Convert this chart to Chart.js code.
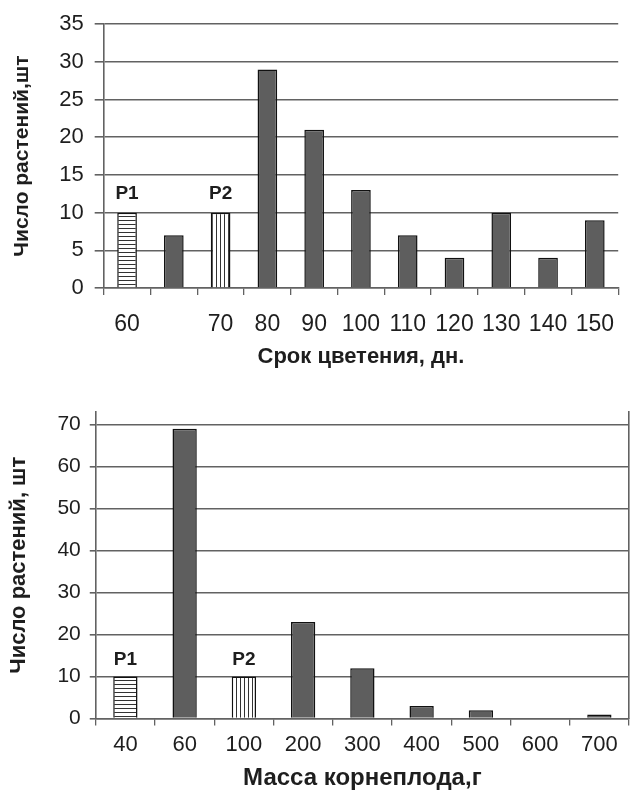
<!DOCTYPE html>
<html>
<head>
<meta charset="utf-8">
<script src="https://cdn.jsdelivr.net/npm/chart.js@4.4.1/dist/chart.umd.min.js"></script>
<style>
  html, body { margin: 0; padding: 0; background: #fff; }
  #wrap { position: relative; width: 630px; height: 790px; }
  .box { position: absolute; left: 0; width: 630px; }
  #top { top: 0; height: 370px; }
  #bottom { top: 380px; height: 410px; }
</style>
</head>
<body>
<div id="wrap">
  <div class="box" id="top"><canvas id="chartTop"></canvas></div>
  <div class="box" id="bottom"><canvas id="chartBottom"></canvas></div>
</div>
<script>
// верхний график: срок цветения
const bloomDays = ['60', '', '70', '80', '90', '100', '110', '120', '130', '140', '150'];
const bloomCounts = [10, 7, 10, 29, 21, 13, 7, 4, 10, 4, 9];
const bloomParents = ['P1', '', 'P2', '', '', '', '', '', '', '', ''];
const bloomTicks = [0, 5, 10, 15, 20, 25, 30, 35];

// нижний график: масса корнеплода
const rootMass = ['40', '60', '100', '200', '300', '400', '500', '600', '700'];
const rootCounts = [10, 69, 10, 23, 12, 3, 2, 0, 1];
const rootParents = ['P1', '', 'P2', '', '', '', '', '', ''];
const rootTicks = [0, 10, 20, 30, 40, 50, 60, 70];

const FONT = "'Liberation Sans', Arial, sans-serif";
const INK = '#1e1e1e';
const GRID = '#626262';

// штриховка для родительских форм
function stripes(horizontal) {
  const c = document.createElement('canvas');
  c.width = 4; c.height = 4;
  const g = c.getContext('2d');
  g.fillStyle = '#fff';
  g.fillRect(0, 0, 4, 4);
  g.fillStyle = '#333';
  if (horizontal) g.fillRect(0, 0, 4, 1);
  else g.fillRect(0, 0, 1, 4);
  return g.createPattern(c, 'repeat');
}
const hatchH = stripes(true);
const hatchV = stripes(false);

function fills(parents) {
  return parents.map(p => p === 'P1' ? hatchH : (p === 'P2' ? hatchV : '#5e5e5e'));
}

// подписи P1 / P2 над столбцами
const parentLabels = {
  id: 'parentLabels',
  afterDatasetsDraw(chart, args, opts) {
    const ctx = chart.ctx;
    const meta = chart.getDatasetMeta(0);
    ctx.save();
    ctx.font = 'bold ' + opts.size + 'px ' + FONT;
    ctx.fillStyle = INK;
    ctx.textAlign = 'center';
    ctx.textBaseline = 'alphabetic';
    opts.names.forEach((name, i) => {
      if (!name) return;
      const bar = meta.data[i];
      ctx.fillText(name, bar.x, bar.y - opts.gap);
    });
    ctx.restore();
  }
};

function makeChart(el, cfg) {
  return new Chart(document.getElementById(el), {
    type: 'bar',
    data: {
      labels: cfg.labels,
      datasets: [{
        data: cfg.values,
        backgroundColor: fills(cfg.parents),
        borderColor: '#111',
        borderWidth: 1.5,
        categoryPercentage: 1,
        barPercentage: cfg.barPct
      }]
    },
    options: {
      responsive: true,
      maintainAspectRatio: false,
      animation: false,
      events: [],
      layout: { padding: cfg.padding },
      plugins: {
        legend: { display: false },
        tooltip: { enabled: false },
        parentLabels: { names: cfg.parents, size: cfg.pSize, gap: cfg.pGap }
      },
      scales: cfg.scales
    },
    plugins: [parentLabels]
  });
}

// верхний
makeChart('chartTop', {
  labels: bloomDays,
  values: bloomCounts,
  parents: bloomParents,
  barPct: 0.42,
  pSize: 19,
  pGap: 14,
  padding: { top: 21, right: 0, bottom: 0, left: 0 },
  scales: {
    x: {
      grid: { drawOnChartArea: false, drawTicks: true, tickLength: 7, color: GRID, lineWidth: 1.3 },
      border: { display: true, color: GRID, width: 1.6 },
      ticks: { color: INK, padding: 16, font: { family: FONT, size: 23 }, maxRotation: 0, autoSkip: false },
      title: { display: true, text: 'Срок цветения, дн.', color: INK, padding: { top: -11, bottom: 0 },
               font: { family: FONT, size: 22, weight: 'bold' } }
    },
    y: {
      min: 0,
      max: 35,
      afterBuildTicks: s => { s.ticks = bloomTicks.map(v => ({ value: v })); },
      grid: { color: GRID, lineWidth: 1.6, tickLength: 9 },
      border: { display: true, color: GRID, width: 1.6 },
      ticks: { color: INK, padding: 11, font: { family: FONT, size: 22 } },
      title: { display: true, text: 'Число растений,шт', color: INK, padding: { top: 10, bottom: 13 },
               font: { family: FONT, size: 21, weight: 'bold' } }
    }
  }
});

// нижний
makeChart('chartBottom', {
  labels: rootMass,
  values: rootCounts,
  parents: rootParents,
  barPct: 0.41,
  pSize: 19,
  pGap: 12,
  padding: { top: 32, right: 1, bottom: 0, left: 0 },
  scales: {
    x: {
      grid: { drawOnChartArea: false, drawTicks: true, tickLength: 7, color: GRID, lineWidth: 1.3 },
      border: { display: true, color: GRID, width: 1.6 },
      ticks: { color: INK, padding: 6, font: { family: FONT, size: 22 }, maxRotation: 0, autoSkip: false },
      title: { display: true, text: 'Масса корнеплода,г', color: INK, padding: { top: 2, bottom: 0 },
               font: { family: FONT, size: 24, weight: 'bold', lineHeight: 1 } }
    },
    y: {
      min: 0,
      max: 73,
      afterBuildTicks: s => { s.ticks = rootTicks.map(v => ({ value: v })); },
      grid: { color: GRID, lineWidth: 1.6, tickLength: 6 },
      border: { display: true, color: GRID, width: 1.6 },
      ticks: { color: INK, padding: 9, font: { family: FONT, size: 21 } },
      title: { display: true, text: 'Число растений, шт', color: INK, padding: { top: 6, bottom: 16 },
               font: { family: FONT, size: 22, weight: 'bold' } }
    },
    yRight: {
      position: 'right',
      min: 0,
      max: 1,
      grid: { drawOnChartArea: false, drawTicks: false },
      border: { display: true, color: GRID, width: 1.6 },
      ticks: { display: false }
    }
  }
});
</script>
</body>
</html>
